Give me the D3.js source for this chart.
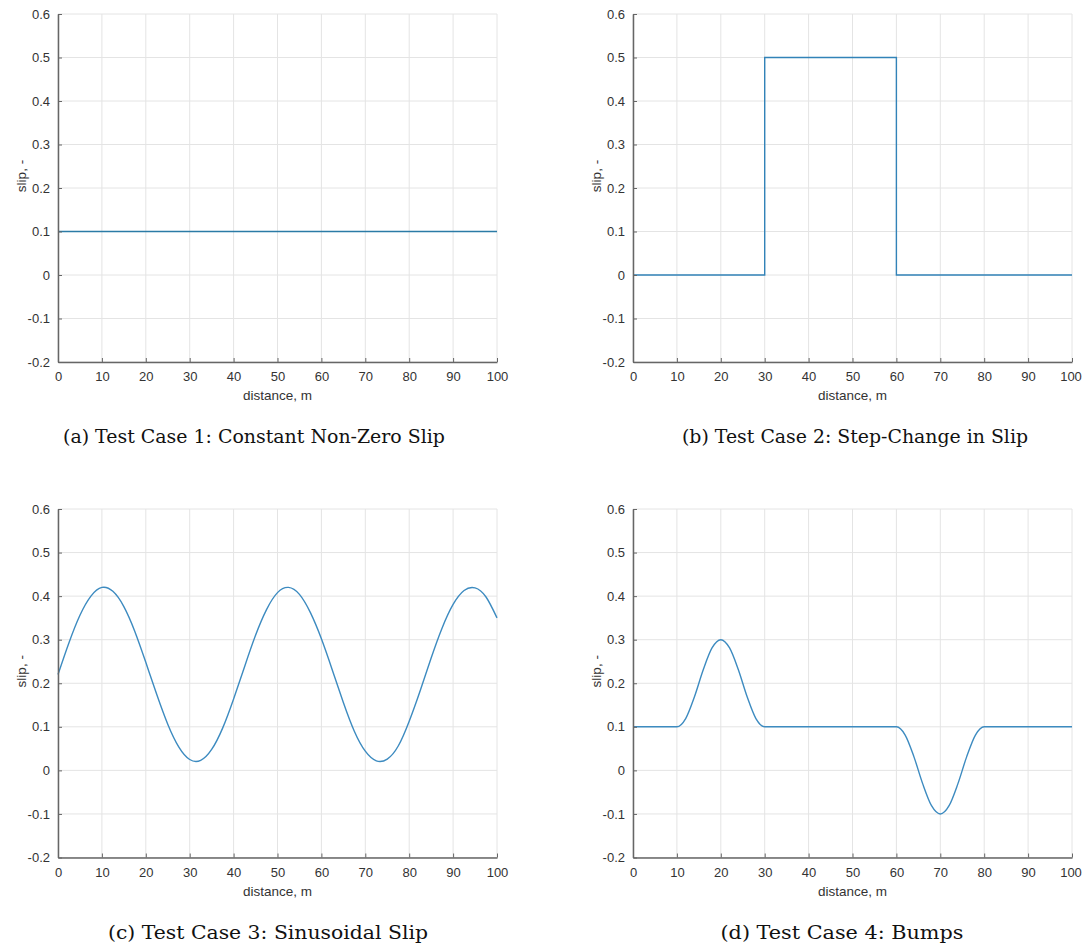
<!DOCTYPE html>
<html>
<head>
<meta charset="utf-8">
<script src="https://cdn.jsdelivr.net/npm/d3@7"></script>
<style>
  body { margin: 0; background: #fff; }
  .tick text { font-family: "Liberation Sans", Arial, sans-serif; font-size: 13px; fill: #333; }
  .lbl { font-family: "Liberation Sans", Arial, sans-serif; font-size: 13.5px; fill: #333; }
  .cap { font-family: "DejaVu Serif", serif; font-size: 18.5px; fill: #111; }
</style>
</head>
<body>
<svg id="fig" width="1083" height="947"></svg>
<script>
// data
const xTicks = [0, 10, 20, 30, 40, 50, 60, 70, 80, 90, 100];
const yTicks = [-0.2, -0.1, 0, 0.1, 0.2, 0.3, 0.4, 0.5, 0.6];

const case1X = [0, 100];
const case1Y = [0.1, 0.1];

const case2X = [0, 30, 30, 60, 60, 100];
const case2Y = [0, 0, 0.5, 0.5, 0, 0];

const case3X = [0, 2.5, 5, 7.5, 10, 12.5, 15, 17.5, 20, 22.5, 25, 27.5, 30, 32.5, 35, 37.5, 40,
  42.5, 45, 47.5, 50, 52.5, 55, 57.5, 60, 62.5, 65, 67.5, 70, 72.5, 75, 77.5, 80,
  82.5, 85, 87.5, 90, 92.5, 95, 97.5, 100];
const case3Y = [0.220, 0.293, 0.356, 0.400, 0.420, 0.411, 0.376, 0.319, 0.248, 0.174, 0.106, 0.054, 0.025,
  0.023, 0.048, 0.097, 0.164, 0.238, 0.310, 0.369, 0.408, 0.420, 0.404, 0.362, 0.302, 0.230,
  0.156, 0.090, 0.044, 0.022, 0.026, 0.056, 0.113, 0.183, 0.258, 0.327, 0.381, 0.413, 0.419,
  0.398, 0.350];

const case4X = [0, 10, 12, 14, 16, 18, 20, 22, 24, 26, 28, 30, 60, 62, 64, 66, 68, 70, 72, 74, 76, 78, 80, 100];
const case4Y = [0.1, 0.1, 0.119, 0.169, 0.231, 0.281, 0.3, 0.281, 0.231, 0.169, 0.119, 0.1,
  0.1, 0.081, 0.031, -0.031, -0.081, -0.1, -0.081, -0.031, 0.031, 0.081, 0.1, 0.1];

const captions = [
  '(a)  Test Case 1: Constant Non-Zero Slip',
  '(b)  Test Case 2: Step-Change in Slip',
  '(c)  Test Case 3: Sinusoidal Slip',
  '(d)  Test Case 4: Bumps'
];

const svg = d3.select('#fig');

// panel boxes: [left, top, right, bottom], caption center x, caption y
const panels = [
  {box: [58, 14, 497, 362], xs: case1X, ys: case1Y, curve: d3.curveLinear, color: '#2b7ba6', cap: captions[0], capX: 254, capY: 443, capW: 382},
  {box: [633, 14, 1072, 362], xs: case2X, ys: case2Y, curve: d3.curveLinear, color: '#3283b8', cap: captions[1], capX: 855, capY: 443, capW: 346},
  {box: [58, 509, 497, 857.5], xs: case3X, ys: case3Y, curve: d3.curveNatural, color: '#3d8bc0', cap: captions[2], capX: 268, capY: 939, capW: 320},
  {box: [633, 509, 1072, 857.5], xs: case4X, ys: case4Y, curve: d3.curveMonotoneX, color: '#3d8bc0', cap: captions[3], capX: 842, capY: 939, capW: 243}
];

panels.forEach(p => {
  const [l, t, r, b] = p.box;
  const x = d3.scaleLinear([0, 100], [l, r]);
  const y = d3.scaleLinear([-0.2, 0.6], [b, t]);
  const g = svg.append('g');

  // grid
  g.selectAll('line.gx').data(xTicks).join('line')
    .attr('x1', d => x(d)).attr('x2', d => x(d)).attr('y1', t).attr('y2', b)
    .attr('stroke', '#e4e4e4').attr('stroke-width', 1);
  g.selectAll('line.gy').data(yTicks).join('line')
    .attr('y1', d => y(d)).attr('y2', d => y(d)).attr('x1', l).attr('x2', r)
    .attr('stroke', '#e4e4e4').attr('stroke-width', 1);

  // data line
  const pts = p.xs.map((v, i) => [v, p.ys[i]]);
  g.append('path').datum(pts)
    .attr('fill', 'none').attr('stroke', p.color).attr('stroke-width', 1.4)
    .attr('d', d3.line().x(d => x(d[0])).y(d => y(d[1])).curve(p.curve));

  // axes, ticks inward
  const ax = g.append('g').attr('transform', `translate(0,${b})`)
    .call(d3.axisBottom(x).tickValues(xTicks).tickSizeInner(-4).tickSizeOuter(0).tickPadding(10).tickFormat(d3.format('d')));
  const ay = g.append('g').attr('transform', `translate(${l},0)`)
    .call(d3.axisLeft(y).tickValues(yTicks).tickSizeInner(-4).tickSizeOuter(0).tickPadding(8));
  [ax, ay].forEach(a => {
    a.select('.domain').attr('stroke', '#666').attr('stroke-width', 1.5);
    a.selectAll('.tick line').attr('stroke', '#666');
  });
  ay.selectAll('.tick text').text(d => d === 0 ? '0' : d3.format('.1f')(d).replace('−', '-'));
  // keep the last label inside the page on the right panels
  if (r > 1000) ax.selectAll('.tick text').filter(d => d === 100).attr('dx', -1.5);

  // labels
  g.append('text').attr('class', 'lbl')
    .attr('transform', `translate(${l - 37},${(t + b) / 2 - 12})rotate(-90)`)
    .attr('text-anchor', 'middle').attr('dy', '0.35em').text('slip, -');
  g.append('text').attr('class', 'lbl')
    .attr('x', (l + r) / 2).attr('y', b + 38)
    .attr('text-anchor', 'middle').text('distance, m');
  g.append('text').attr('class', 'cap')
    .attr('x', p.capX).attr('y', p.capY)
    .attr('text-anchor', 'middle')
    .attr('textLength', p.capW).attr('lengthAdjust', 'spacingAndGlyphs')
    .text(p.cap);
});
</script>
</body>
</html>
